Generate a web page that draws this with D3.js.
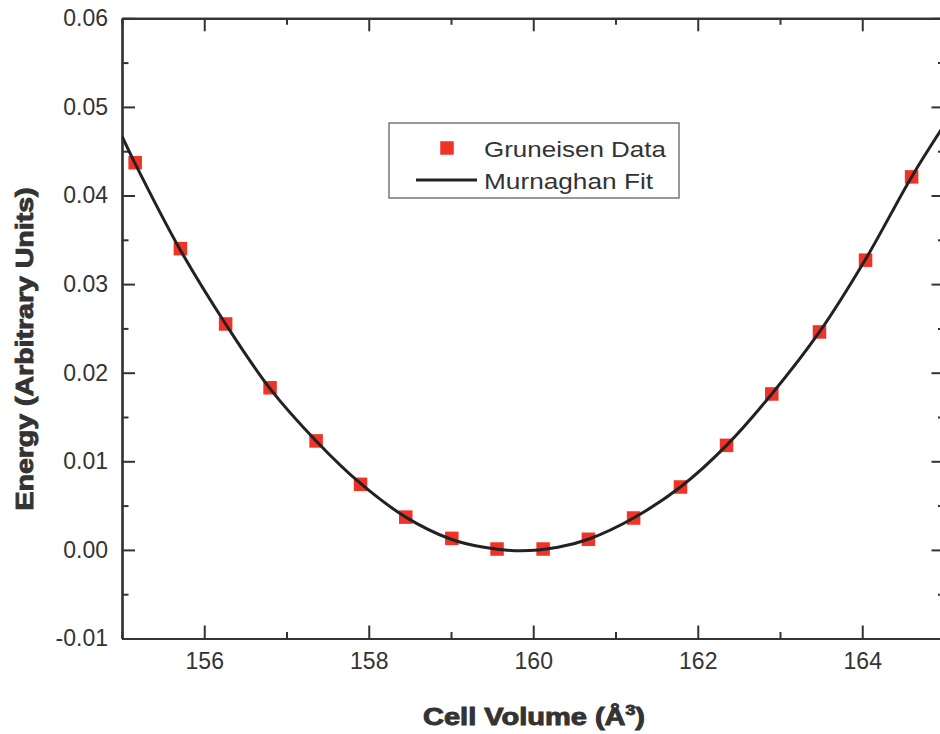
<!DOCTYPE html>
<html>
<head>
<meta charset="utf-8">
<script src="https://cdn.jsdelivr.net/npm/d3@7"></script>
<style>
  body { margin: 0; background: #fff; }
  svg { display: block; font-family: "Liberation Sans", Arial, sans-serif; }
</style>
</head>
<body>
<div id="chart"></div>
<script>
// Gruneisen data points (cell volume in Å^3, energy in arbitrary units)
const volume = [155.16, 155.71, 156.26, 156.80, 157.36, 157.90, 158.45, 159.01, 159.56,
    160.12, 160.67, 161.22, 161.79, 162.35, 162.90, 163.48, 164.04, 164.60];
const energy = [0.0437, 0.0340, 0.0255, 0.0183, 0.0123, 0.0074, 0.0037, 0.0013, 0.0001,
    0.0001, 0.0012, 0.0036, 0.0071, 0.0118, 0.0176, 0.0246, 0.0327, 0.0421];

// Murnaghan fit
const fitVolume = [155.0, 155.16, 155.7, 156.26, 156.8, 157.36, 157.9, 158.45, 159.0, 159.4,
    159.85, 160.3, 160.67, 161.22, 161.79, 162.35, 162.9, 163.48, 164.04, 164.6, 165.0];
const fitEnergy = [0.0467, 0.0436, 0.0340, 0.0255, 0.0182, 0.0123, 0.0075, 0.0037, 0.0012, 0.0003,
    -0.0001, 0.0003, 0.0012, 0.0036, 0.0071, 0.0118, 0.0176, 0.0246, 0.0328, 0.0421, 0.0480];

// tick values
const xTicks = [156, 158, 160, 162, 164];
const xMinor = [155, 157, 159, 161, 163, 165];
const yTicks = [-0.01, 0.00, 0.01, 0.02, 0.03, 0.04, 0.05, 0.06];
const yMinor = [-0.005, 0.005, 0.015, 0.025, 0.035, 0.045, 0.055];

const W = 940, H = 734;
const plot = { left: 122, right: 944.5, top: 18.3, bottom: 638.5 };
const ink = "#333";

const x = d3.scaleLinear().domain([155, 165]).range([plot.left, plot.right]);
const y = d3.scaleLinear().domain([-0.01, 0.06]).range([plot.bottom, plot.top]);

const svg = d3.select("#chart")
    .append("svg")
    .attr("width", W)
    .attr("height", H);

// axes: ticks point inward on all four sides
function styleAxis(g) {
    g.select(".domain").attr("stroke", ink).attr("stroke-width", 2.2);
    g.selectAll(".tick line").attr("stroke", ink).attr("stroke-width", 2);
    g.selectAll(".tick text").attr("fill", ink).attr("font-family", "Liberation Sans, Arial, sans-serif");
}

svg.append("g")
    .attr("transform", `translate(0,${plot.bottom})`)
    .call(d3.axisBottom(x).tickValues(xTicks).tickSize(-13).tickSizeOuter(0).tickPadding(14).tickFormat(d3.format("d")))
    .call(styleAxis)
    .call(g => g.selectAll(".tick text").attr("font-size", 23));

svg.append("g")
    .attr("transform", `translate(0,${plot.bottom})`)
    .call(d3.axisBottom(x).tickValues(xMinor).tickSize(-6.5).tickSizeOuter(0).tickFormat(""))
    .call(styleAxis);

svg.append("g")
    .attr("transform", `translate(0,${plot.top})`)
    .call(d3.axisTop(x).tickValues(xTicks).tickSize(-13).tickSizeOuter(0).tickFormat(""))
    .call(styleAxis);

svg.append("g")
    .attr("transform", `translate(0,${plot.top})`)
    .call(d3.axisTop(x).tickValues(xMinor).tickSize(-6.5).tickSizeOuter(0).tickFormat(""))
    .call(styleAxis);

svg.append("g")
    .attr("transform", `translate(${plot.left},0)`)
    .call(d3.axisLeft(y).tickValues(yTicks).tickSize(-13).tickSizeOuter(0).tickPadding(14).tickFormat(d => d.toFixed(2)))
    .call(styleAxis)
    .call(g => g.selectAll(".tick text").attr("font-size", 23));

svg.append("g")
    .attr("transform", `translate(${plot.left},0)`)
    .call(d3.axisLeft(y).tickValues(yMinor).tickSize(-6.5).tickSizeOuter(0).tickFormat(""))
    .call(styleAxis);

svg.append("g")
    .attr("transform", `translate(${plot.right},0)`)
    .call(d3.axisRight(y).tickValues(yTicks).tickSize(-13).tickSizeOuter(0).tickFormat(""))
    .call(styleAxis);

svg.append("g")
    .attr("transform", `translate(${plot.right},0)`)
    .call(d3.axisRight(y).tickValues(yMinor).tickSize(-6.5).tickSizeOuter(0).tickFormat(""))
    .call(styleAxis);

// clip to plot area
svg.append("clipPath")
    .attr("id", "clip")
    .append("rect")
    .attr("x", plot.left)
    .attr("y", plot.top)
    .attr("width", plot.right - plot.left)
    .attr("height", plot.bottom - plot.top);

// data squares
const sq = 13.5;
svg.append("g")
    .selectAll("rect")
    .data(volume.map((v, i) => [v, energy[i]]))
    .enter().append("rect")
    .attr("x", d => x(d[0]) - sq / 2)
    .attr("y", d => y(d[1]) - sq / 2)
    .attr("width", sq)
    .attr("height", sq)
    .attr("fill", "#ef3327");

// fit curve
const line = d3.line()
    .x(d => x(d[0]))
    .y(d => y(d[1]))
    .curve(d3.curveCatmullRom);

svg.append("path")
    .datum(fitVolume.map((v, i) => [v, fitEnergy[i]]))
    .attr("clip-path", "url(#clip)")
    .attr("d", line)
    .attr("fill", "none")
    .attr("stroke", "#222")
    .attr("stroke-width", 3);

// legend
const legend = svg.append("g");
legend.append("rect")
    .attr("x", 389).attr("y", 123)
    .attr("width", 290).attr("height", 75)
    .attr("fill", "#fff")
    .attr("stroke", "#555")
    .attr("stroke-width", 1.2);
legend.append("rect")
    .attr("x", 447 - sq / 2).attr("y", 148 - sq / 2)
    .attr("width", sq).attr("height", sq)
    .attr("fill", "#ef3327");
legend.append("line")
    .attr("x1", 416).attr("x2", 477)
    .attr("y1", 180).attr("y2", 180)
    .attr("stroke", "#222").attr("stroke-width", 3);
legend.append("text")
    .attr("x", 484).attr("y", 157)
    .attr("font-size", 22)
    .attr("textLength", 182)
    .attr("lengthAdjust", "spacingAndGlyphs")
    .attr("fill", ink)
    .text("Gruneisen Data");
legend.append("text")
    .attr("x", 484).attr("y", 189)
    .attr("font-size", 22)
    .attr("textLength", 169)
    .attr("lengthAdjust", "spacingAndGlyphs")
    .attr("fill", ink)
    .text("Murnaghan Fit");

// axis titles (heavy, wide face in the original)
const xTitle = svg.append("text")
    .attr("x", 423).attr("y", 725)
    .attr("font-size", 23)
    .attr("font-weight", "bold")
    .attr("fill", ink)
    .attr("stroke", ink)
    .attr("stroke-width", 0.9)
    .attr("textLength", 222)
    .attr("lengthAdjust", "spacingAndGlyphs");
xTitle.append("tspan").text("Cell Volume (Å");
xTitle.append("tspan").attr("dy", -10).attr("font-size", 14).text("3");
xTitle.append("tspan").attr("dy", 10).text(")");

svg.append("text")
    .attr("transform", "translate(33,349) rotate(-90)")
    .attr("text-anchor", "middle")
    .attr("font-size", 23)
    .attr("font-weight", "bold")
    .attr("fill", ink)
    .attr("stroke", ink)
    .attr("stroke-width", 0.9)
    .attr("textLength", 323)
    .attr("lengthAdjust", "spacingAndGlyphs")
    .text("Energy (Arbitrary Units)");
</script>
</body>
</html>
